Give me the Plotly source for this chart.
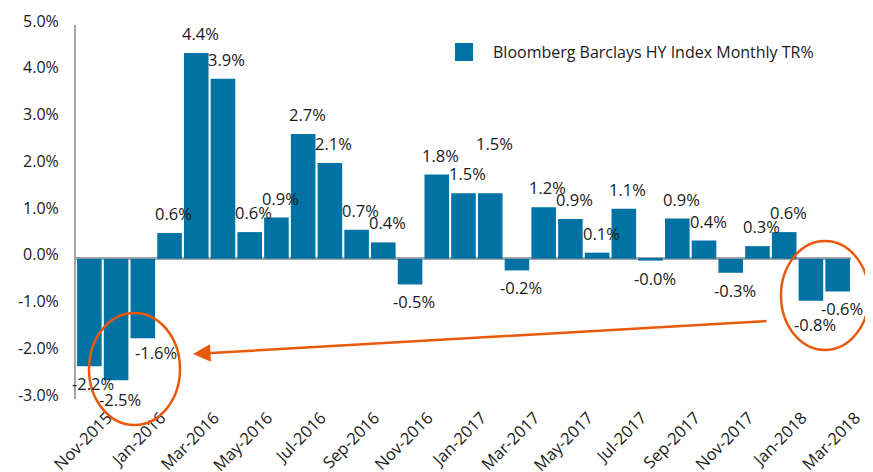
import plotly.graph_objects as go

months = ["Nov-2015", "Dec-2015", "Jan-2016", "Feb-2016", "Mar-2016", "Apr-2016", "May-2016",
          "Jun-2016", "Jul-2016", "Aug-2016", "Sep-2016", "Oct-2016", "Nov-2016", "Dec-2016",
          "Jan-2017", "Feb-2017", "Mar-2017", "Apr-2017", "May-2017", "Jun-2017", "Jul-2017",
          "Aug-2017", "Sep-2017", "Oct-2017", "Nov-2017", "Dec-2017", "Jan-2018", "Feb-2018",
          "Mar-2018"]
returns = [-2.30, -2.60, -1.70, 0.55, 4.40, 3.85, 0.57, 0.88, 2.67, 2.05, 0.62, 0.35, -0.55,
           1.80, 1.40, 1.40, -0.25, 1.10, 0.85, 0.13, 1.07, -0.04, 0.86, 0.39, -0.30, 0.27,
           0.57, -0.90, -0.70]
labels = ["-2.2%", "-2.5%", "-1.6%", "0.6%", "4.4%", "3.9%", "0.6%", "0.9%", "2.7%", "2.1%",
          "0.7%", "0.4%", "-0.5%", "1.8%", "1.5%", "1.5%", "-0.2%", "1.2%", "0.9%", "0.1%",
          "1.1%", "-0.0%", "0.9%", "0.4%", "-0.3%", "0.3%", "0.6%", "-0.8%", "-0.6%"]
tick_months = months[::2]
y_ticks = [-3, -2, -1, 0, 1, 2, 3, 4, 5]
y_tick_text = [f"{v:.1f}%" for v in y_ticks]
series_name = "Bloomberg Barclays HY Index Monthly TR%"

BLUE = "#0072A3"
ORANGE = "#E8590C"
FONT = "'Open Sans', Lato, sans-serif"
TXT = "#1a1a1a"

fig = go.Figure()
fig.add_trace(go.Bar(
    x=months, y=returns,
    marker=dict(color=BLUE, line=dict(width=0)),
    showlegend=False, name=series_name, hovertemplate="%{x}: %{y:.1f}%<extra></extra>",
))

# page body has an 8px margin; work in reference-pixel coordinates
OFF = 8
W, H = 873 - OFF, 472 - OFF
L, T = 76 - OFF, 25 - OFF
R = W - (851 - OFF)
B = H - (399 - OFF)
pw, ph = W - L - R, H - T - B

def px(x):
    return (x - OFF - L) / pw

def py(y):
    return (H - B - (y - OFF)) / ph

shapes = [
    dict(type="circle", xref="paper", yref="paper", x0=px(89), x1=px(180), y0=py(425), y1=py(313),
         line=dict(color=ORANGE, width=2.5)),
    dict(type="circle", xref="paper", yref="paper", x0=px(781), x1=px(869), y0=py(350), y1=py(241),
         line=dict(color=ORANGE, width=2.5)),
    dict(type="rect", xref="paper", yref="paper", x0=px(455), x1=px(473), y0=py(61), y1=py(43),
         fillcolor=BLUE, line=dict(width=0)),
]

annotations = [
    dict(xref="paper", yref="paper", x=px(491), y=py(52), text=series_name, showarrow=False,
         xanchor="left", yanchor="middle", font=dict(size=16, color=TXT, family=FONT)),
    dict(xref="paper", yref="paper", x=px(193), y=py(354), axref="pixel", ayref="pixel",
         ax=768 - 193, ay=321 - 354, text="", showarrow=True, arrowhead=2, arrowsize=1.4,
         arrowwidth=2.5, arrowcolor=ORANGE),
]

# data labels (Excel-style placement: slightly right of centre, a few nudged to avoid overlap)
label_nudge = {"Jan-2016": (9, 3), "Feb-2017": (0, 30), "Feb-2018": (0, -6), "Dec-2015": (0, -2)}
for m, v, lab in zip(months, returns, labels):
    dx, dy = label_nudge.get(m, (0, 0))
    pos = v >= 0
    annotations.append(dict(
        x=m, y=v, xref="x", yref="y", text=lab, showarrow=False,
        xanchor="center", yanchor="bottom" if pos else "top",
        xshift=4 + dx, yshift=(6 if pos else -4) + dy,
        font=dict(size=16.5, color=TXT, family=FONT),
    ))

fig.update_layout(
    width=W, height=H, margin=dict(l=L, r=R, t=T, b=B, autoexpand=False),
    paper_bgcolor="white", plot_bgcolor="white",
    font=dict(family=FONT, size=16, color=TXT),
    bargap=0.08, shapes=shapes, annotations=annotations,
    xaxis=dict(type="category", categoryorder="array", categoryarray=months,
               range=[-0.5, len(months) - 0.5], autorange=False,
               tickmode="array", tickvals=tick_months, ticktext=tick_months,
               tickangle=-45, showgrid=False, showline=False, ticks="", automargin=False,
               tickfont=dict(size=16.5, color=TXT, family=FONT),
               ticklabelshift=18, ticklabelstandoff=5),
    yaxis=dict(range=[-3, 5], autorange=False, tickmode="array", tickvals=y_ticks,
               ticktext=y_tick_text,
               showgrid=False, showline=True, linecolor="#A6A6A6", linewidth=2,
               zeroline=True, zerolinecolor="#A6A6A6", zerolinewidth=2.5, ticks="",
               automargin=False, ticklabelshift=-4,
               tickfont=dict(size=16, color=TXT, family=FONT), ticklabelstandoff=12),
)

fig.write_html("out.html")
